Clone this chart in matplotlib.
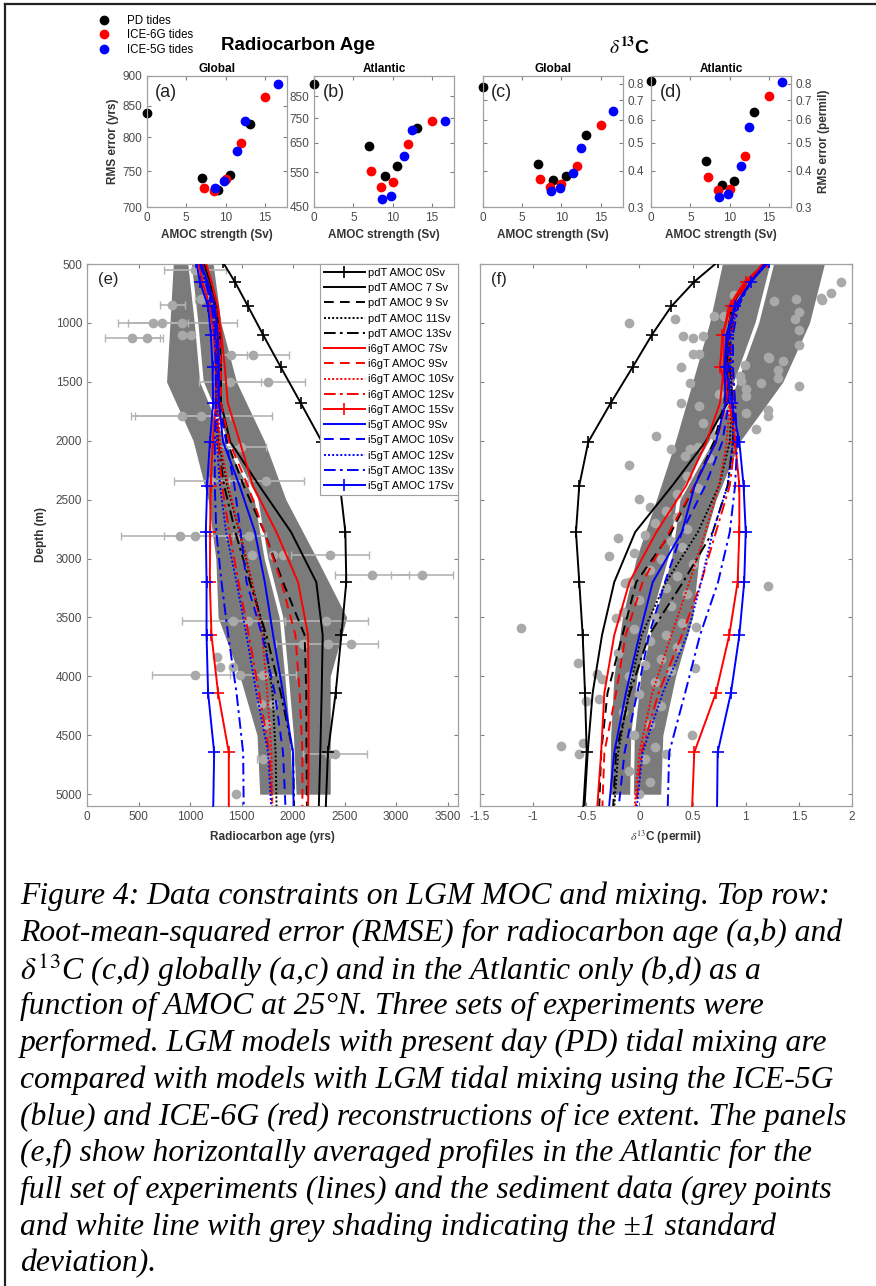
import numpy as np
import matplotlib
matplotlib.use("Agg")
import matplotlib.pyplot as plt
from matplotlib.lines import Line2D
from matplotlib.ticker import FixedLocator, NullLocator, FixedFormatter

plt.rcParams['font.family'] = ['Liberation Sans', 'DejaVu Sans']
plt.rcParams['mathtext.fontset'] = 'stix'

# ---- top row: RMS error vs AMOC strength ----
amoc_pd = [0.0, 7.0, 9.0, 10.6, 13.1]
amoc_i6g = [7.3, 8.5, 10.0, 12.0, 15.0]
amoc_i5g = [8.7, 9.8, 11.5, 12.5, 16.6]

rms_age_glob_pd = [839, 740, 723, 744, 821]
rms_age_glob_i6g = [726, 722, 739, 792, 865]
rms_age_glob_i5g = [726, 736, 779, 826, 886]
rms_age_atl_pd = [914, 639, 537, 569, 710]
rms_age_atl_i6g = [553, 505, 519, 646, 738]
rms_age_atl_i5g = [471, 479, 603, 702, 738]
rms_d13c_glob_pd = [0.776, 0.422, 0.371, 0.384, 0.530]
rms_d13c_glob_i6g = [0.376, 0.352, 0.361, 0.414, 0.578]
rms_d13c_glob_i5g = [0.341, 0.350, 0.393, 0.480, 0.641]
rms_d13c_atl_pd = [0.820, 0.432, 0.357, 0.369, 0.638]
rms_d13c_atl_i6g = [0.381, 0.343, 0.346, 0.451, 0.723]
rms_d13c_atl_i5g = [0.326, 0.332, 0.414, 0.566, 0.811]

# ---- bottom row: Atlantic mean profiles ----
model_depth = [480, 650, 860, 1100, 1375, 1680, 2010, 2380, 2775, 3200, 3650, 4140, 4645, 5150]

age_pd0 = [1315, 1434, 1563, 1708, 1880, 2074, 2280, 2455, 2507, 2516, 2468, 2413, 2338, 2315]
age_pd7 = [1130, 1190, 1250, 1290, 1300, 1300, 1390, 1670, 1980, 2225, 2287, 2277, 2264, 2248]
age_pd9 = [1110, 1180, 1250, 1290, 1300, 1300, 1360, 1520, 1720, 1902, 2112, 2128, 2130, 2135]
age_pd11 = [1095, 1165, 1230, 1260, 1270, 1265, 1280, 1360, 1480, 1600, 1720, 1800, 1830, 1840]
age_pd13 = [1090, 1160, 1225, 1255, 1265, 1260, 1270, 1330, 1440, 1580, 1740, 1880, 2000, 2010]
age_i6g7 = [1150, 1208, 1270, 1305, 1337, 1366, 1483, 1609, 1838, 2048, 2145, 2150, 2150, 2145]
age_i6g9 = [1110, 1175, 1245, 1285, 1300, 1300, 1380, 1560, 1720, 1886, 2022, 2064, 2090, 2090]
age_i6g10 = [1100, 1165, 1230, 1260, 1270, 1270, 1290, 1370, 1480, 1600, 1700, 1750, 1790, 1800]
age_i6g12 = [1090, 1155, 1220, 1250, 1260, 1260, 1270, 1310, 1380, 1470, 1570, 1670, 1770, 1800]
age_i6g15 = [1080, 1120, 1190, 1230, 1250, 1250, 1220, 1200, 1195, 1192, 1208, 1272, 1376, 1376]
age_i5g9 = [1100, 1170, 1240, 1270, 1280, 1280, 1320, 1480, 1630, 1725, 1806, 1902, 1999, 2005]
age_i5g10 = [1095, 1160, 1225, 1255, 1265, 1280, 1350, 1430, 1490, 1548, 1700, 1822, 1902, 1928]
age_i5g12 = [1090, 1150, 1215, 1245, 1255, 1255, 1260, 1290, 1350, 1451, 1548, 1644, 1757, 1790]
age_i5g13 = [1090, 1150, 1210, 1240, 1250, 1250, 1240, 1240, 1255, 1305, 1370, 1451, 1515, 1521]
age_i5g17 = [1060, 1095, 1175, 1202, 1218, 1224, 1192, 1166, 1153, 1160, 1160, 1175, 1234, 1224]

d13c_pd0 = [0.74, 0.516, 0.30, 0.118, -0.064, -0.27, -0.481, -0.566, -0.597, -0.566, -0.534, -0.512, -0.496, -0.53]
d13c_pd7 = [1.20, 1.00, 0.87, 0.83, 0.83, 0.83, 0.62, 0.31, -0.04, -0.237, -0.352, -0.44, -0.487, -0.52]
d13c_pd9 = [1.18, 1.02, 0.88, 0.82, 0.82, 0.80, 0.70, 0.52, 0.30, -0.03, -0.16, -0.30, -0.36, -0.38]
d13c_pd11 = [1.20, 1.05, 0.90, 0.85, 0.85, 0.87, 0.85, 0.75, 0.55, 0.25, 0.02, -0.10, -0.20, -0.24]
d13c_pd13 = [1.20, 1.05, 0.90, 0.85, 0.85, 0.88, 0.88, 0.83, 0.69, 0.41, 0.09, -0.09, -0.22, -0.25]
d13c_i6g7 = [1.20, 0.99, 0.84, 0.79, 0.795, 0.758, 0.63, 0.44, 0.16, -0.095, -0.237, -0.33, -0.36, -0.40]
d13c_i6g9 = [1.18, 1.02, 0.88, 0.82, 0.82, 0.82, 0.72, 0.52, 0.28, 0.03, -0.13, -0.22, -0.33, -0.35]
d13c_i6g10 = [1.20, 1.05, 0.90, 0.85, 0.84, 0.85, 0.82, 0.75, 0.62, 0.47, 0.30, 0.12, 0.0, -0.05]
d13c_i6g12 = [1.20, 1.05, 0.92, 0.87, 0.87, 0.90, 0.90, 0.85, 0.72, 0.58, 0.40, 0.18, 0.02, -0.04]
d13c_i6g15 = [1.20, 1.00, 0.86, 0.78, 0.76, 0.85, 0.90, 0.94, 0.94, 0.924, 0.845, 0.72, 0.516, 0.494]
d13c_i5g9 = [1.20, 1.05, 0.90, 0.82, 0.80, 0.81, 0.72, 0.52, 0.40, 0.125, 0.0, -0.127, -0.237, -0.29]
d13c_i5g10 = [1.20, 1.05, 0.90, 0.84, 0.84, 0.84, 0.78, 0.62, 0.40, 0.24, 0.09, -0.02, -0.14, -0.20]
d13c_i5g12 = [1.20, 1.05, 0.92, 0.86, 0.86, 0.88, 0.88, 0.83, 0.69, 0.58, 0.45, 0.22, 0.03, -0.03]
d13c_i5g13 = [1.20, 1.05, 0.93, 0.88, 0.88, 0.90, 0.92, 0.90, 0.85, 0.74, 0.57, 0.43, 0.28, 0.265]
d13c_i5g17 = [1.22, 1.05, 0.90, 0.83, 0.81, 0.87, 0.94, 0.98, 1.00, 0.986, 0.94, 0.861, 0.736, 0.73]

labels = ["pdT AMOC 0Sv", "pdT AMOC 7 Sv", "pdT AMOC 9 Sv", "pdT AMOC 11Sv", "pdT AMOC 13Sv",
          "i6gT AMOC 7Sv", "i6gT AMOC 9Sv", "i6gT AMOC 10Sv", "i6gT AMOC 12Sv", "i6gT AMOC 15Sv",
          "i5gT AMOC 9Sv", "i5gT AMOC 10Sv", "i5gT AMOC 12Sv", "i5gT AMOC 13Sv", "i5gT AMOC 17Sv"]

# sediment data binned (mean and +-1 std)
data_depth = [500, 1000, 1500, 2000, 2500, 3000, 3500, 4000, 4500, 5000]
age_mean = [1000, 1063, 1115, 1354, 1644, 1741, 1887, 1941, 1990, 2016]
age_lo = [837, 805, 772, 1030, 1175, 1250, 1272, 1483, 1650, 1676]
age_hi = [1224, 1300, 1450, 1720, 1930, 2230, 2520, 2360, 2360, 2360]
d13c_mean = [1.25, 1.11, 0.91, 0.68, 0.37, 0.29, 0.13, 0.0, -0.06, -0.07]
d13c_lo = [0.78, 0.66, 0.50, 0.34, 0.16, -0.03, -0.16, -0.24, -0.27, -0.28]
d13c_hi = [1.74, 1.60, 1.35, 0.95, 0.72, 0.56, 0.50, 0.34, 0.22, 0.20]

# sediment core points
core_age = [1050, 827, 1111, 643, 730, 923, 439, 578, 917, 1014, 1402, 1611, 1386, 1757,
            923, 1111, 1499, 1741, 1200, 901, 1047, 1573, 2355, 1902, 1800, 1600, 2768, 3252,
            1418, 1563, 2323, 2096, 2338, 2565, 1257, 1289, 1418, 1047, 1483, 1709, 1693, 1806,
            1741, 2403, 2350, 1709, 1450]
core_age_depth = [551, 847, 799, 997, 997, 997, 1129, 1129, 1102, 1102, 1271, 1271, 1502, 1502,
                  1794, 1794, 2056, 2339, 2339, 2811, 2811, 2811, 2966, 2966, 2966, 2966, 3140, 3140,
                  3531, 3531, 3531, 3729, 3729, 3729, 3833, 3920, 3920, 3989, 3989, 3989, 4237, 4237,
                  4407, 4661, 4661, 4703, 5000]
core_age_err = [300, 120, 60, 340, 0, 530, 265, 160, 0, 0, 150, 350, 300, 355,
                460, 680, 240, 360, 360, 570, 300, 160, 380, 0, 0, 0, 360, 300,
                500, 0, 400, 260, 0, 260, 0, 0, 0, 420, 0, 320, 0, 0,
                0, 310, 0, 60, 0]

core_d13c = [1.90, 1.80, 1.71, 1.72, 1.47, 1.27, 1.50, 1.46, 1.50, 1.50, 1.21, 1.22, 1.35, 1.30,
             1.30, 1.50, 1.14, 0.99, 0.955, 1.00, 1.00, 1.21, 1.21, 1.10, 1.00, -0.10, 0.33, 0.41,
             0.50, 0.60, 0.70, 0.80, 0.89, 0.50, 0.56, 0.39, 0.48, 0.39, 0.56, 0.16, 0.30, 0.43,
             0.48, -0.10, 0.00, 0.10, -0.20, -0.29, -0.14, 1.21, -1.11, -0.22, 0.53, 0.52, -0.58,
             -0.40, -0.35, -0.50, -0.38, 0.49, -0.74, -0.53, -0.57, 0.25,
             0.25, 0.35, 0.15, 0.45, 0.05, 0.30, 0.40, -0.05, 0.20, 0.50, 0.10, 0.35, -0.10, 0.25,
             0.45, 0.00, 0.30, -0.15, 0.15, 0.40, -0.05, 0.25, 0.10, 0.35, -0.20, 0.20, 0.05, 0.30,
             -0.10, 0.15, 0.00, 0.20, -0.15, 0.10, -0.05, 0.15, 0.05, -0.10, 0.10, 0.00,
             0.75, 0.85, 0.60, 0.70, 0.55, 0.95, 0.65, 0.45, 0.55, 0.35]
core_d13c_depth = [655, 743, 791, 805, 797, 811, 904, 966, 1059, 1186, 1291, 1299, 1322, 1398,
                   1469, 1534, 1511, 1356, 1497, 1562, 1624, 1737, 1788, 1901, 1765, 997, 966, 1110,
                   1130, 1110, 938, 938, 763, 1265, 1265, 1370, 1511, 1681, 1709, 1963, 2070, 2133,
                   2070, 2203, 2494, 2565, 2825, 2980, 3206, 3235, 3593, 3503, 3579, 3927, 3884,
                   3983, 4025, 4209, 4189, 4500, 4590, 4568, 4661, 4655,
                   2600, 2650, 2700, 2750, 2800, 2850, 2900, 2950, 3000, 3050, 3100, 3150, 3200, 3250,
                   3300, 3350, 3400, 3450, 3500, 3550, 3600, 3650, 3700, 3750, 3800, 3850, 3900, 3950,
                   4000, 4050, 4150, 4250, 4300, 4400, 4500, 4600, 4700, 4800, 4900, 5000,
                   1600, 1750, 1850, 1950, 2050, 1450, 2150, 2300, 2400, 2450]

caption = [
    "Figure 4: Data constraints on LGM MOC and mixing. Top row:",
    "Root-mean-squared error (RMSE) for radiocarbon age (a,b) and",
    r"$\delta^{13}$C (c,d) globally (a,c) and in the Atlantic only (b,d) as a",
    "function of AMOC at 25\u00b0N. Three sets of experiments were",
    "performed. LGM models with present day (PD) tidal mixing are",
    "compared with models with LGM tidal mixing using the ICE-5G",
    "(blue) and ICE-6G (red) reconstructions of ice extent. The panels",
    "(e,f) show horizontally averaged profiles in the Atlantic for the",
    "full set of experiments (lines) and the sediment data (grey points",
    "and white line with grey shading indicating the \u00b11 standard",
    "deviation).",
]

W, H = 876, 1286
fig = plt.figure(figsize=(W / 100, H / 100), dpi=100)


def px_axes(l, t, r, b):
    return fig.add_axes([l / W, 1 - b / H, (r - l) / W, (b - t) / H])


def style(ax):
    ax.tick_params(direction='in', top=True, right=True, length=3, width=0.8,
                   color='#808080', labelcolor='#4a4a4a', labelsize=8.5)
    for s in ax.spines.values():
        s.set_color('#a0a0a0')
        s.set_linewidth(0.9)


RED, BLUE = '#ff0000', '#0000ff'
ms = 6

# ---- top row ----
tops = [
    (146.7, 287, "Global", "(a)", rms_age_glob_pd, rms_age_glob_i6g, rms_age_glob_i5g,
     (700, 900), [700, 750, 800, 850, 900]),
    (314, 454, "Atlantic", "(b)", rms_age_atl_pd, rms_age_atl_i6g, rms_age_atl_i5g,
     (450, 955), [450, 550, 650, 750, 850]),
    (482.7, 622.7, "Global", "(c)", rms_d13c_glob_pd, rms_d13c_glob_i6g, rms_d13c_glob_i5g,
     (0.3, 0.85), [0.3, 0.4, 0.5, 0.6, 0.7, 0.8]),
    (651, 791, "Atlantic", "(d)", rms_d13c_atl_pd, rms_d13c_atl_i6g, rms_d13c_atl_i5g,
     (0.3, 0.85), [0.3, 0.4, 0.5, 0.6, 0.7, 0.8]),
]
top_axes = []
for i, (l, r, ttl, tag, ypd, y6, y5, ylim, yt) in enumerate(tops):
    ax = px_axes(l, 76, r, 207)
    style(ax)
    h1, = ax.plot(amoc_pd, ypd, 'o', color='k', ms=ms, clip_on=False, label='PD tides')
    h2, = ax.plot(amoc_i6g, y6, 'o', color=RED, ms=ms, clip_on=False, label='ICE-6G tides')
    h3, = ax.plot(amoc_i5g, y5, 'o', color=BLUE, ms=ms, clip_on=False, label='ICE-5G tides')
    ax.set_yscale('log')
    ax.set_ylim(*ylim)
    ax.set_xlim(0, 17.8)
    ax.yaxis.set_major_locator(FixedLocator(yt))
    ax.yaxis.set_minor_locator(NullLocator())
    ax.yaxis.set_major_formatter(FixedFormatter([f"{v:g}" for v in yt]))
    ax.set_xticks([0, 5, 10, 15])
    ax.set_title(ttl, fontsize=8.5, fontweight='bold', pad=3)
    ax.set_xlabel("AMOC strength (Sv)", fontsize=8.5, fontweight='bold', labelpad=4, color='#333333')
    ax.text(0.06, 0.94, tag, transform=ax.transAxes, fontsize=13, va='top', ha='left', color='#222222')
    if i >= 2:
        ax.yaxis.tick_right()
        ax.tick_params(left=True, direction='in')
    top_axes.append(ax)

top_axes[0].set_ylabel("RMS error (yrs)", fontsize=8.5, fontweight='bold', labelpad=2, color='#333333')
top_axes[3].yaxis.set_label_position('right')
top_axes[3].set_ylabel("RMS error (permil)", fontsize=8.5, fontweight='bold', labelpad=4, color='#333333')

fig.legend(handles=[h1, h2, h3], loc='upper left', bbox_to_anchor=(92 / W, 1 - 9 / H),
           frameon=False, fontsize=8.3, handlelength=1.0, handletextpad=1.5,
           labelspacing=0.22, borderpad=0)
fig.text(298 / W, 1 - 46 / H, "Radiocarbon Age", fontsize=13.5, fontweight='bold',
         ha='center', va='center')
fig.text(630 / W, 1 - 47 / H, r"$\delta^{\mathbf{13}}$C", fontsize=14, fontweight='bold',
         ha='center', va='center')

# ---- bottom row ----
age_runs = [age_pd0, age_pd7, age_pd9, age_pd11, age_pd13, age_i6g7, age_i6g9, age_i6g10,
            age_i6g12, age_i6g15, age_i5g9, age_i5g10, age_i5g12, age_i5g13, age_i5g17]
d13c_runs = [d13c_pd0, d13c_pd7, d13c_pd9, d13c_pd11, d13c_pd13, d13c_i6g7, d13c_i6g9, d13c_i6g10,
             d13c_i6g12, d13c_i6g15, d13c_i5g9, d13c_i5g10, d13c_i5g12, d13c_i5g13, d13c_i5g17]

DASH = (0, (5, 3.2))
DOT = (0, (1, 1.1))
DASHDOT = (0, (6, 2.2, 1.4, 2.2))
run_style = [
    ('k', '-', '+'), ('k', '-', None), ('k', DASH, None), ('k', DOT, None), ('k', DASHDOT, None),
    (RED, '-', None), (RED, DASH, None), (RED, DOT, None), (RED, DASHDOT, None), (RED, '-', '+'),
    (BLUE, '-', None), (BLUE, DASH, None), (BLUE, DOT, None), (BLUE, DASHDOT, None), (BLUE, '-', '+'),
]

BAND = '#7b7b7b'
PT = '#a9a9a9'

ax_e = px_axes(87, 264, 458, 806)
ax_f = px_axes(480, 264, 852, 806)

for ax, lo, hi, mean, runs in [(ax_e, age_lo, age_hi, age_mean, age_runs),
                               (ax_f, d13c_lo, d13c_hi, d13c_mean, d13c_runs)]:
    style(ax)
    ax.fill_betweenx(data_depth, lo, hi, color=BAND, lw=0, zorder=1)
    ax.plot(mean, data_depth, color='white', lw=2.6, zorder=2)

err = np.array(core_age_err)
sel = err > 0
ax_e.errorbar(np.array(core_age)[sel], np.array(core_age_depth)[sel], xerr=err[sel], fmt='none',
              ecolor='#b4b4b4', elinewidth=1.2, capsize=3, capthick=1.0, zorder=3)
ax_e.plot(core_age, core_age_depth, 'o', color=PT, ms=7, mew=0, zorder=3)
ax_f.plot(core_d13c, core_d13c_depth, 'o', color=PT, ms=7, mew=0, zorder=3)

handles = []
for ax, runs in [(ax_e, age_runs), (ax_f, d13c_runs)]:
    for vals, (c, ls, mk), lab in zip(runs, run_style, labels):
        h, = ax.plot(vals, model_depth, color=c, ls=ls, lw=1.4, marker=mk, ms=8, mew=1.2,
                     label=lab, zorder=4)
        if ax is ax_e:
            handles.append(h)

ax_e.set_xlim(0, 3600)
ax_e.set_xticks([0, 500, 1000, 1500, 2000, 2500, 3000, 3500])
ax_f.set_xlim(-1.5, 2)
ax_f.set_xticks([-1.5, -1, -0.5, 0, 0.5, 1, 1.5, 2])
ax_f.set_xticklabels(["-1.5", "-1", "-0.5", "0", "0.5", "1", "1.5", "2"])
for ax in (ax_e, ax_f):
    ax.set_ylim(5100, 500)
    ax.set_yticks(range(500, 5001, 500))
ax_f.tick_params(labelleft=False)

ax_e.set_ylabel("Depth (m)", fontsize=8.5, fontweight='bold', color='#333333', labelpad=6)
ax_e.set_xlabel("Radiocarbon age (yrs)", fontsize=8.5, fontweight='bold', color='#333333', labelpad=6)
ax_f.set_xlabel(r"$\delta^{13}$C (permil)", fontsize=8.5, fontweight='bold', color='#333333', labelpad=4)
ax_e.text(0.03, 0.985, "(e)", transform=ax_e.transAxes, fontsize=12, va='top', color='#222222')
ax_f.text(0.03, 0.985, "(f)", transform=ax_f.transAxes, fontsize=12, va='top', color='#222222')

leg = ax_e.legend(handles=handles, loc='upper right', fontsize=8.0, handlelength=3.7,
                  labelspacing=0.47, borderaxespad=0.0, borderpad=0.35, handletextpad=0.3,
                  fancybox=False, framealpha=1)
leg.get_frame().set_edgecolor('#a0a0a0')
leg.get_frame().set_linewidth(0.8)

# ---- caption ----
for k, line in enumerate(caption):
    fig.text(20 / W, 1 - (896 + 36.8 * k) / H, line, fontsize=22.8, family='Liberation Serif',
             style='italic', ha='left', va='center')

# frame of the screenshot
fig.add_artist(Line2D([5 / W, 1], [1 - 4 / H, 1 - 4 / H], color='#222222', lw=1.6))
fig.add_artist(Line2D([5 / W, 5 / W], [0, 1 - 4 / H], color='#222222', lw=1.6))

fig.savefig("out.png", dpi=100)
